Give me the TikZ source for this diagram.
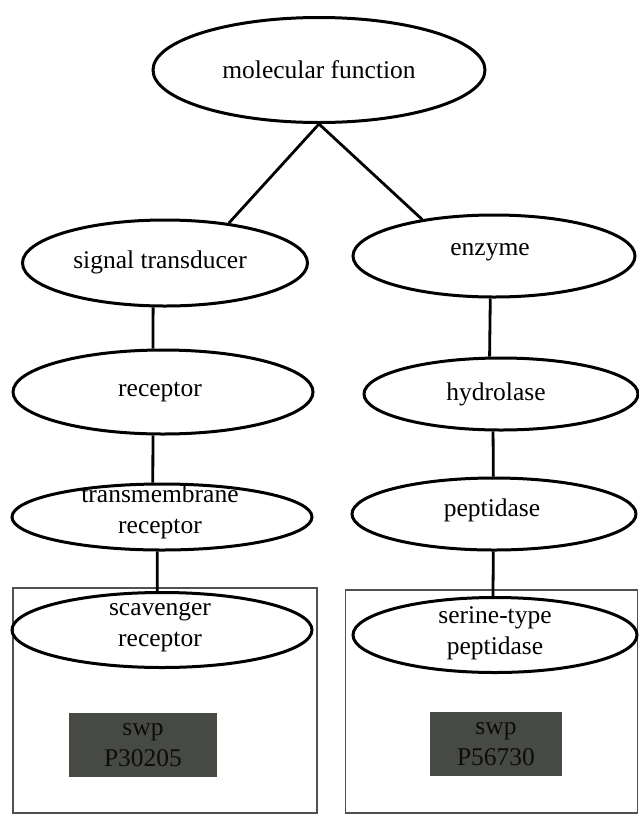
\documentclass[tikz,border=0pt]{standalone}
\usepackage{fontspec}
\setmainfont{Liberation Serif}
\usetikzlibrary{shapes.geometric}
\definecolor{darkbox}{RGB}{70,73,68}
\definecolor{darktext}{RGB}{12,12,12}
\definecolor{framecol}{RGB}{80,80,80}
\tikzset{
  term/.style={ellipse, draw=black, line width=3pt, inner sep=0pt},
  conn/.style={draw=black, line width=2.8pt},
  framebox/.style={rectangle, draw=framecol, line width=1.6pt, inner sep=0pt},
  swpbox/.style={rectangle, fill=darkbox, text=darktext, inner sep=0pt, align=center},
  lbl/.style={align=center, inner sep=0pt}
}
\begin{document}
\begin{tikzpicture}[x=1pt,y=-1pt,font=\fontsize{25.5}{30.6}\selectfont]
\useasboundingbox (0,0) rectangle (639,815);
% frames
\node[framebox, minimum width=304pt, minimum height=225pt] (lframe) at (165,700.5) {};
\node[framebox, minimum width=292pt, minimum height=223pt] (rframe) at (491.5,701.5) {};
% ellipses
\node[term, minimum width=332pt, minimum height=105pt] (mf) at (319,70) {};
\node[lbl] (mft) at (319,70) {molecular function};
\node[term, minimum width=285pt, minimum height=86pt] (st) at (165,263) {};
\node[lbl] (stt) at (160,262) {signal transducer};
\node[term, minimum width=282pt, minimum height=82pt] (enz) at (494,256) {};
\node[lbl] (enzt) at (490,252) {enzyme};
\node[term, minimum width=300pt, minimum height=84pt] (rec) at (163,392) {};
\node[lbl] (rect) at (160,392) {receptor};
\node[term, minimum width=274pt, minimum height=72pt] (hyd) at (501,394) {};
\node[lbl] (hydt) at (496,394) {hydrolase};
\node[term, minimum width=300pt, minimum height=66pt] (tmr) at (162,517) {};
\node[lbl] (tmrt) at (160,512) {transmembrane\\receptor};
\node[term, minimum width=284pt, minimum height=72pt] (pep) at (494,514) {};
\node[lbl] (pept) at (492,510) {peptidase};
\node[term, minimum width=300pt, minimum height=75pt] (scav) at (162,630) {};
\node[lbl] (scavt) at (160,627) {scavenger\\receptor};
\node[term, minimum width=284pt, minimum height=75pt] (ser) at (495,635) {};
\node[lbl] (sert) at (495,633) {serine-type\\peptidase};
% swp boxes
\node[swpbox, minimum width=148pt, minimum height=64pt] (swp1) at (143,745) {swp\\P30205};
\node[swpbox, minimum width=132pt, minimum height=64pt] (swp2) at (496,744) {swp\\P56730};
% connectors
\draw[conn] (mf.south) -- (st.32);
\draw[conn] (mf.south) -- (enz.153);
\draw[conn] (st.-105.6) -- (rec.103.4);
\draw[conn] (rec.-103.4) -- (tmr.105.3);
\draw[conn] (tmr.-98.6) -- (scav.97.7);
\draw[conn] (enz.-95.6) -- (hyd.107);
\draw[conn] (hyd.-102.5) -- (pep.91.6);
\draw[conn] (pep.-91.6) -- (ser.93);
\end{tikzpicture}
\end{document}
